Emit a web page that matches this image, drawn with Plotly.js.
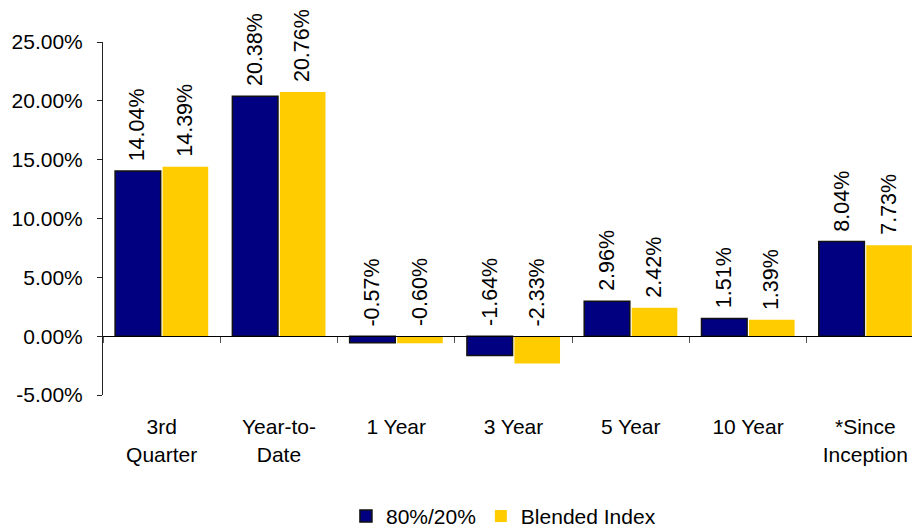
<!DOCTYPE html>
<html>
<head>
<meta charset="utf-8">
<script src="https://cdn.plot.ly/plotly-3.0.1.min.js"></script>
<style>
  html, body { margin: 0; padding: 0; background: #ffffff; }
  #chart { width: 912px; height: 531px; }
</style>
</head>
<body>
<div id="chart"></div>
<script>
// Period labels along the category axis
const categories = ["3rd<br>Quarter", "Year-to-<br>Date", "1 Year", "3 Year", "5 Year", "10 Year", "*Since<br>Inception"];
// Returns in percent
const portfolioReturns = [14.04, 20.38, -0.57, -1.64, 2.96, 1.51, 8.04];
const indexReturns = [14.39, 20.76, -0.60, -2.33, 2.42, 1.39, 7.73];
const seriesNames = ["80%/20%", "Blended Index"];
const yTickValues = [-5, 0, 5, 10, 15, 20, 25];

const NAVY = "#000080";
const GOLD = "#FFCC00";
const FONT = "Liberation Sans, Arial, sans-serif";
const BAR_GAP = 0.19;
const TEXT_SIZE = 21;

const traces = [
  {
    type: "bar",
    name: seriesNames[0],
    x: categories,
    y: portfolioReturns,
    marker: { color: NAVY, line: { color: "#111111", width: 1.5 } },
    hoverinfo: "skip"
  },
  {
    type: "bar",
    name: seriesNames[1],
    x: categories,
    y: indexReturns,
    marker: { color: GOLD, line: { width: 0 } },
    hoverinfo: "skip"
  }
];

// Vertical value labels sit above each bar, or above the zero line for losses
const half = (1 - BAR_GAP) / 4;
const annotations = [];
[portfolioReturns, indexReturns].forEach((vals, s) => {
  vals.forEach((v, i) => {
    annotations.push({
      x: i + (s === 0 ? -half : half),
      y: Math.max(v, 0),
      xref: "x",
      yref: "y",
      text: v.toFixed(2) + "%",
      textangle: -90,
      showarrow: false,
      xanchor: "center",
      yanchor: "bottom",
      yshift: 8,
      font: { family: FONT, size: TEXT_SIZE + 0.5, color: "#000000" }
    });
  });
});

const layout = {
  width: 912,
  height: 531,
  paper_bgcolor: "#ffffff",
  plot_bgcolor: "#ffffff",
  margin: { l: 103, r: 0, t: 42, b: 136, autoexpand: false },
  font: { family: FONT, size: TEXT_SIZE, color: "#000000" },
  barmode: "group",
  bargap: BAR_GAP,
  bargroupgap: 0.04,
  showlegend: true,
  legend: {
    orientation: "h",
    x: 0.495,
    xanchor: "center",
    y: -0.402,
    yanchor: "bottom",
    font: { family: FONT, size: TEXT_SIZE, color: "#000000" },
    itemclick: false,
    traceorder: "normal"
  },
  xaxis: {
    type: "category",
    range: [-0.5, 6.398],
    anchor: "free",
    position: 5 / 30,
    showline: true,
    linecolor: "#000000",
    linewidth: 1,
    ticks: "outside",
    tickson: "boundaries",
    ticklen: 6,
    tickcolor: "#555555",
    ticklabelstandoff: 72,
    showgrid: false,
    zeroline: false,
    fixedrange: true,
    tickfont: { family: FONT, size: TEXT_SIZE, color: "#000000" }
  },
  yaxis: {
    range: [-5, 25],
    tickvals: yTickValues,
    ticktext: yTickValues.map(v => v.toFixed(2) + "%"),
    showline: true,
    linecolor: "#222222",
    linewidth: 1,
    ticks: "outside",
    ticklen: 5,
    tickcolor: "#222222",
    ticklabelstandoff: 10,
    showgrid: false,
    zeroline: false,
    fixedrange: true,
    tickfont: { family: FONT, size: TEXT_SIZE, color: "#000000" }
  },
  annotations: annotations
};

Plotly.newPlot("chart", traces, layout, { staticPlot: true, displayModeBar: false });
</script>
</body>
</html>
